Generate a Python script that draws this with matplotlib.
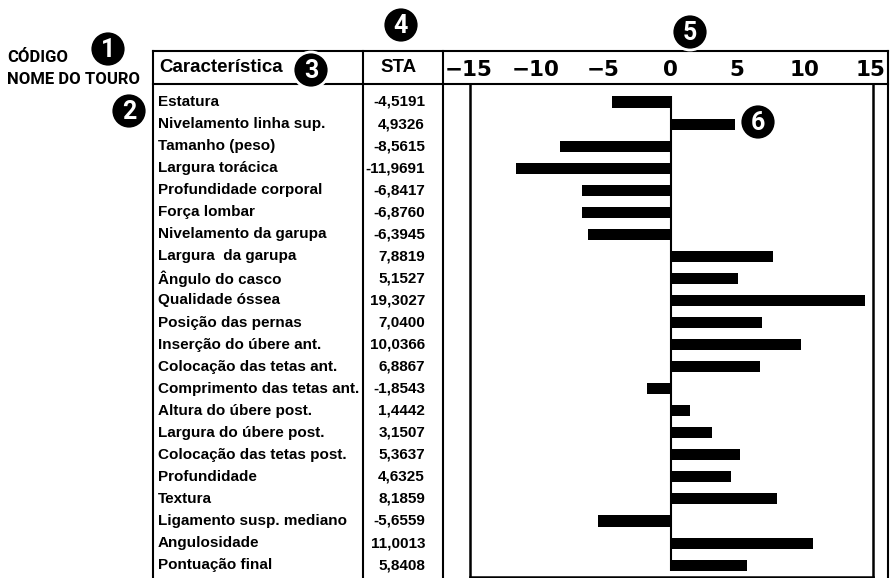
import numpy as np
import matplotlib.pyplot as plt
from matplotlib.patches import Circle
from matplotlib.transforms import blended_transform_factory

# dados da tabela
caracteristicas = [
    "Estatura", "Nivelamento linha sup.", "Tamanho (peso)", "Largura torácica",
    "Profundidade corporal", "Força lombar", "Nivelamento da garupa",
    "Largura  da garupa", "Ângulo do casco", "Qualidade óssea",
    "Posição das pernas", "Inserção do úbere ant.", "Colocação das tetas ant.",
    "Comprimento das tetas ant.", "Altura do úbere post.", "Largura do úbere post.",
    "Colocação das tetas post.", "Profundidade", "Textura",
    "Ligamento susp. mediano", "Angulosidade", "Pontuação final",
]
sta = [-4.5191, 4.9326, -8.5615, -11.9691, -6.8417, -6.8760, -6.3945,
       7.8819, 5.1527, 19.3027, 7.0400, 10.0366, 6.8867, -1.8543,
       1.4442, 3.1507, 5.3637, 4.6325, 8.1859, -5.6559, 11.0013, 5.8408]
escala = [-15, -10, -5, 0, 5, 10, 15]
escala_txt = ["\u221215", "\u221210", "\u22125", "0", "5", "10", "15"]
marcadores = ["1", "2", "3", "4", "5", "6"]

W, H = 892, 578
COND = ["Roboto", "DejaVu Sans"]
SANS = ["Liberation Sans", "DejaVu Sans"]

fig = plt.figure(figsize=(W / 100, H / 100), dpi=100)


def fx(px):
    return px / W


def fy(py):
    return 1 - py / H


# grafico de barras
ax = fig.add_axes([fx(470), fy(577), fx(873) - fx(470), fy(84) - fy(577)])
n = len(sta)
ypos = np.arange(n)
ax.barh(ypos, np.clip(sta, -15, 15), height=0.5, color="black")
ax.set_xlim(-15.5, 15.6)
ax.set_ylim(21.54, -0.816)
ax.vlines(0, -0.25, n - 1 + 0.25, color="black", lw=1.5)
ax.set_xticks([])
ax.set_yticks([])
for s in ["left", "right", "bottom"]:
    ax.spines[s].set_linewidth(1.8)
ax.spines["top"].set_visible(False)

# escala no cabecalho
hx = fig.add_axes([fx(443), fy(84), fx(888) - fx(443), fy(51) - fy(84)])
hx.set_xlim((443 - 670) / 13.4, (888 - 670) / 13.4)
hx.set_ylim(0, 1)
hx.axis("off")
for v, t in zip(escala, escala_txt):
    hx.text(v, 0.42, t, ha="center", va="center", fontsize=15.5,
            fontweight="bold", family="DejaVu Sans")

# camada da tabela
ov = fig.add_axes([0, 0, 1, 1], zorder=5)
ov.set_xlim(0, W)
ov.set_ylim(H, 0)
ov.axis("off")

lw = 1.5
ov.plot([153, 888], [51, 51], color="black", lw=lw, zorder=1)
ov.plot([153, 888], [84, 84], color="black", lw=lw, zorder=1)
for x in [153, 363, 443, 888]:
    ov.plot([x, x], [51, 578], color="black", lw=lw, zorder=1)

ov.text(159, 68, "Característica", ha="left", va="center", fontsize=13.5,
        fontweight="bold", family=SANS)
ov.text(399, 68, "STA", ha="center", va="center", fontsize=13.5,
        fontweight="bold", family=SANS)

linhas = blended_transform_factory(ov.transData, ax.transData)
for i, (nome, v) in enumerate(zip(caracteristicas, sta)):
    ov.text(158, i, nome, transform=linhas, ha="left", va="center",
            fontsize=11, fontweight="bold", family=SANS)
    ov.text(425, i, f"{v:.4f}".replace(".", ","), transform=linhas,
            ha="right", va="center", fontsize=11, fontweight="bold", family=SANS)

ov.text(7, 57, "CÓDIGO", ha="left", va="center", fontsize=12,
        fontweight="bold", family=COND)
ov.text(7, 80, "NOME DO TOURO", ha="left", va="center", fontsize=12,
        fontweight="bold", family=COND)

# marcadores numerados
centros = [(108, 49), (129, 111), (311, 70), (401, 25), (690, 32), (758, 122)]
for (cx, cy), m in zip(centros, marcadores):
    ov.add_patch(Circle((cx, cy), 18, facecolor="black", edgecolor="white",
                        lw=2, zorder=3))
    ov.text(cx, cy + 1, m, ha="center", va="center", color="white",
            fontsize=18, fontweight="bold", family=COND, zorder=4)

fig.savefig("out.png", dpi=100)
